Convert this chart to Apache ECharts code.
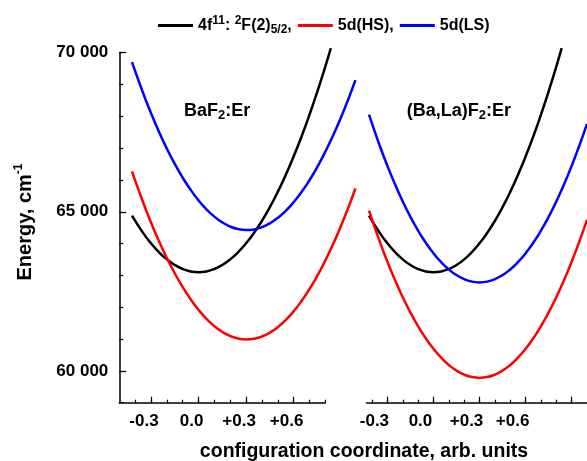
<!DOCTYPE html>
<html>
<head>
<meta charset="utf-8">
<script src="https://cdn.jsdelivr.net/npm/echarts@6/dist/echarts.min.js"></script>
<style>
html,body{margin:0;padding:0;background:#fff;}
#c{width:587px;height:461px;}
</style>
</head>
<body>
<div id="c"></div>
<script>
// ---- data ----
const xBlack = [-0.42,-0.35,-0.3,-0.25,-0.2,-0.15,-0.1,-0.05,0,0.05,0.1,0.15,0.2,0.25,0.3,0.35,0.4,0.45,0.5,0.55,0.6,0.65,0.7,0.75,0.8,0.835];
const black4f = [64882,64337,64009,63731,63504,63327,63201,63125,63100,63125,63201,63327,63504,63731,64009,64337,64716,65145,65625,66155,66736,67367,68049,68781,69564,70142];

const xLeft = [-0.42,-0.35,-0.3,-0.25,-0.2,-0.15,-0.1,-0.05,0,0.05,0.1,0.15,0.2,0.25,0.3,0.35,0.4,0.45,0.5,0.55,0.6,0.65,0.7,0.75,0.8,0.85,0.9,0.95,0.99];
const redLeft = [66271,65298,64664,64081,63547,63065,62632,62250,61919,61637,61406,61226,61096,61016,60987,61008,61080,61202,61374,61597,61870,62194,62568,62992,63467,63992,64568,65194,65731];
const blueLeft = [69702,68732,68100,67518,66985,66503,66072,65690,65359,65078,64847,64666,64536,64455,64425,64445,64516,64636,64807,65028,65299,65620,65991,66413,66885,67407,67979,68602,69136];

const xRight = [-0.42,-0.35,-0.3,-0.25,-0.2,-0.15,-0.1,-0.05,0,0.05,0.1,0.15,0.2,0.25,0.3,0.35,0.4,0.45,0.5,0.55,0.6,0.65,0.7,0.75,0.8,0.85,0.9,0.95,1.0];
const redRight = [65037,64064,63430,62847,62315,61833,61402,61022,60693,60414,60186,60008,59881,59805,59780,59805,59881,60008,60186,60414,60693,61022,61402,61833,62315,62847,63430,64064,64749];
const blueRight = [68052,67077,66441,65856,65323,64839,64407,64026,63695,63416,63187,63009,62882,62805,62780,62805,62882,63009,63187,63416,63695,64026,64407,64839,65323,65856,66441,67077,67763];
const blackRight = [64882,64337,64009,63731,63504,63327,63201,63125,63100,63125,63201,63327,63504,63731,64009,64337,64716,65145,65625,66155,66736,67367,68049,68781,69564,70142];

const yMajor = [60000,65000,70000];
const yMinor = [59000,60000,61000,62000,63000,64000,65000,66000,67000,68000,69000,70000];
const xMajor = [-0.3,0,0.3,0.6];
const xMinorLeft = [-0.4,-0.3,-0.2,-0.1,0,0.1,0.2,0.3,0.4,0.5,0.6,0.7,0.8];
const xMajorTicksRight = [-0.3,0,0.3,0.6,0.9];
const xMinorRight = [-0.4,-0.3,-0.2,-0.1,0,0.1,0.2,0.3,0.4,0.5,0.6,0.7,0.8,0.9];

const seriesNames = ['f','hs','ls'];
const legendText = {
  f: '{m|4f}{sup|11}{m|: }{sup|2}{m|F(2)}{sub|5/2}{m|,}',
  hs: '{m|5d(HS),}',
  ls: '{m|5d(LS)}'
};

const FONT = '"Liberation Sans", Arial, sans-serif';
const pairs = (xs, ys) => xs.map((x, i) => [x, ys[i]]);

const chart = echarts.init(document.getElementById('c'), null, {renderer: 'canvas'});

const axisLineStyle = {color: '#000', width: 1.5};
const xLabelFmt = v => {
  const r = Math.round(v * 10) / 10;
  if (r === 0) return '0.0';
  return (r > 0 ? '+' : '') + r.toFixed(1);
};

function xAxesFor(gridIndex, min, max, minorVals, majorVals, shift) {
  return [
    {
      type: 'value', gridIndex, min, max, position: 'bottom',
      axisLine: {show: true, onZero: false, lineStyle: axisLineStyle},
      axisTick: {show: true, inside: true, length: 3, customValues: minorVals, lineStyle: {color: '#000', width: 1.2}},
      axisLabel: {show: false}, splitLine: {show: false}
    },
    {
      type: 'value', gridIndex, min, max, position: 'bottom',
      axisLine: {show: false, onZero: false},
      axisTick: {show: true, inside: true, length: 6, customValues: majorVals, lineStyle: {color: '#000', width: 1.2}},
      axisLabel: {
        show: true, customValues: xMajor, formatter: xLabelFmt, margin: 10,
        fontFamily: FONT, fontWeight: 'bold', fontSize: 17, color: '#000',
        padding: [0, shift, 0, 0]
      },
      splitLine: {show: false}
    }
  ];
}

const option = {
  animation: false,
  backgroundColor: '#fff',
  legend: {
    left: 153, top: 10,
    itemWidth: 35, itemHeight: 14, itemGap: 6,
    icon: 'path://M0,0 L35,0 L35,3 L0,3 Z',
    data: seriesNames,
    formatter: n => legendText[n],
    textStyle: {
      fontFamily: FONT, fontWeight: 'bold', fontSize: 16, color: '#000',
      rich: {
        m: {fontFamily: FONT, fontWeight: 'bold', fontSize: 16, color: '#000'},
        sup: {fontFamily: FONT, fontWeight: 'bold', fontSize: 12, color: '#000', padding: [0, 0, 9, 0]},
        sub: {fontFamily: FONT, fontWeight: 'bold', fontSize: 12, color: '#000', padding: [9, 0, 0, 0]}
      }
    }
  },
  grid: [
    // left data area (curves run past the drawn axis end)
    {left: 119.3, top: 52.7, width: 237.7, height: 350},
    // right panel
    {left: 366.7, top: 52.7, width: 227.6, height: 350},
    // left drawn x axis
    {left: 119.3, top: 52.7, width: 206, height: 350}
  ],
  xAxis: [
    {type: 'value', gridIndex: 0, min: -0.5, max: 1.0, show: false},
    ...xAxesFor(2, -0.5, 0.8, xMinorLeft, xMajor, 14),
    ...xAxesFor(1, -0.435, 1.0, xMinorRight, xMajorTicksRight, 26)
  ],
  yAxis: [
    {
      type: 'value', gridIndex: 0, min: 59000, max: 70000, position: 'left',
      axisLine: {show: true, onZero: false, lineStyle: axisLineStyle},
      axisTick: {show: true, inside: true, length: 4, customValues: yMinor, lineStyle: {color: '#000', width: 1.2}},
      axisLabel: {show: false}, splitLine: {show: false}
    },
    {
      type: 'value', gridIndex: 0, min: 59000, max: 70000, position: 'left',
      axisLine: {show: false, onZero: false},
      axisTick: {show: true, inside: true, length: 7, customValues: yMajor, lineStyle: {color: '#000', width: 1.2}},
      axisLabel: {
        show: true, customValues: yMajor, margin: 11,
        formatter: v => (v / 1000) + ' 000',
        fontFamily: FONT, fontWeight: 'bold', fontSize: 17, color: '#000'
      },
      splitLine: {show: false}
    },
    {type: 'value', gridIndex: 1, min: 59000, max: 70000, show: false},
    {type: 'value', gridIndex: 2, min: 59000, max: 70000, show: false}
  ],
  graphic: [
    {
      type: 'text', x: 25, y: 222, rotation: Math.PI / 2,
      style: {
        text: '{m|Energy, cm}{sup|-1}',
        align: 'center', verticalAlign: 'middle',
        rich: {
          m: {fontFamily: FONT, fontWeight: 'bold', fontSize: 20, fill: '#000'},
          sup: {fontFamily: FONT, fontWeight: 'bold', fontSize: 12, fill: '#000', padding: [0, 0, 12, 0]}
        }
      }
    },
    {
      type: 'text', x: 364, y: 452,
      style: {
        text: 'configuration coordinate, arb. units',
        align: 'center', verticalAlign: 'middle',
        fontFamily: FONT, fontWeight: 'bold', fontSize: 19.5, fill: '#000'
      }
    },
    {
      type: 'text', x: 184, y: 111,
      style: {
        text: '{m|BaF}{sub|2}{m|:Er}',
        align: 'left', verticalAlign: 'middle',
        rich: {
          m: {fontFamily: FONT, fontWeight: 'bold', fontSize: 18, fill: '#000'},
          sub: {fontFamily: FONT, fontWeight: 'bold', fontSize: 13, fill: '#000', padding: [9, 0, 0, 0]}
        }
      }
    },
    {
      type: 'text', x: 406.7, y: 111,
      style: {
        text: '{m|(Ba,La)F}{sub|2}{m|:Er}',
        align: 'left', verticalAlign: 'middle',
        rich: {
          m: {fontFamily: FONT, fontWeight: 'bold', fontSize: 18, fill: '#000'},
          sub: {fontFamily: FONT, fontWeight: 'bold', fontSize: 13, fill: '#000', padding: [9, 0, 0, 0]}
        }
      }
    }
  ],
  series: [
    {name: 'f', type: 'line', xAxisIndex: 0, yAxisIndex: 0, data: pairs(xBlack, black4f), smooth: true, symbol: 'none', clip: false, lineStyle: {color: '#000', width: 2.5}, itemStyle: {color: '#000'}},
    {name: 'hs', type: 'line', xAxisIndex: 0, yAxisIndex: 0, data: pairs(xLeft, redLeft), smooth: true, symbol: 'none', clip: false, lineStyle: {color: '#ff0000', width: 2.5}, itemStyle: {color: '#ff0000'}},
    {name: 'ls', type: 'line', xAxisIndex: 0, yAxisIndex: 0, data: pairs(xLeft, blueLeft), smooth: true, symbol: 'none', clip: false, lineStyle: {color: '#0000ff', width: 2.5}, itemStyle: {color: '#0000ff'}},
    {name: 'f', type: 'line', xAxisIndex: 3, yAxisIndex: 2, data: pairs(xBlack, blackRight), smooth: true, symbol: 'none', clip: false, lineStyle: {color: '#000', width: 2.5}, itemStyle: {color: '#000'}},
    {name: 'hs', type: 'line', xAxisIndex: 3, yAxisIndex: 2, data: pairs(xRight, redRight), smooth: true, symbol: 'none', clip: false, lineStyle: {color: '#ff0000', width: 2.5}, itemStyle: {color: '#ff0000'}},
    {name: 'ls', type: 'line', xAxisIndex: 3, yAxisIndex: 2, data: pairs(xRight, blueRight), smooth: true, symbol: 'none', clip: false, lineStyle: {color: '#0000ff', width: 2.5}, itemStyle: {color: '#0000ff'}}
  ]
};

chart.setOption(option);
</script>
</body>
</html>
